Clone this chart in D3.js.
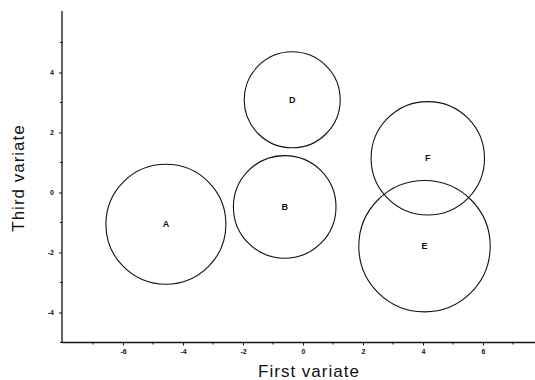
<!DOCTYPE html>
<html>
<head>
<meta charset="utf-8">
<script src="https://cdn.jsdelivr.net/npm/d3@7"></script>
<style>
  html, body { margin: 0; padding: 0; background: #fff; }
  svg { display: block; }
  .tick text { font-family: "Liberation Sans", Arial, sans-serif; font-size: 7px; font-weight: bold; fill: #111; }
</style>
</head>
<body>
<svg id="chart" width="535" height="380"></svg>
<script>
// Group means on the first and third canonical variates, with radius of each confidence circle
const groups  = ["A", "B", "D", "E", "F"];
const firstV  = [-4.57, -0.61, -0.36, 4.05, 4.16];
const thirdV  = [-1.06, -0.48, 3.09, -1.79, 1.14];
const radii   = [2.0, 1.71, 1.6, 2.19, 1.89];

const xMajor = [-6, -4, -2, 0, 2, 4, 6];
const xMinor = [-7, -5, -3, -1, 1, 3, 5, 7];
const yMajor = [-4, -2, 0, 2, 4];
const yMinor = [-5, -3, -1, 1, 3, 5];

const svg = d3.select("#chart");
const x = d3.scaleLinear().domain([-8, 7.7]).range([63, 534]);
const y = d3.scaleLinear().domain([-5, 6.05]).range([342.5, 11]);
const ink = "#111";

// axes
const xAxis = d3.axisBottom(x).tickValues(xMajor).tickSize(3).tickPadding(4)
  .tickFormat(d => d < 0 ? "-" + Math.abs(d) : d);
const gx = svg.append("g").attr("transform", `translate(0,${y(-5)})`).call(xAxis);
gx.select(".domain").attr("d", `M62,0H535`).attr("stroke", ink).attr("stroke-width", 1.3);
gx.selectAll(".tick line").attr("stroke", ink);
gx.selectAll(".minor").data(xMinor).enter().append("line")
  .attr("x1", d => x(d)).attr("x2", d => x(d)).attr("y1", 0).attr("y2", 2)
  .attr("stroke", ink);

const yAxis = d3.axisLeft(y).tickValues(yMajor).tickSize(3).tickPadding(5)
  .tickFormat(d => d < 0 ? "-" + Math.abs(d) : d);
const gy = svg.append("g").attr("transform", `translate(62,0)`).call(yAxis);
gy.select(".domain").attr("d", `M0,11V${y(-5)}`).attr("stroke", ink).attr("stroke-width", 1.3);
gy.selectAll(".tick line").attr("stroke", ink);
gy.selectAll(".minor").data(yMinor).enter().append("line")
  .attr("x1", 0).attr("x2", -2).attr("y1", d => y(d)).attr("y2", d => y(d))
  .attr("stroke", ink);

// axis titles
svg.append("text")
  .attr("x", 309).attr("y", 377)
  .attr("text-anchor", "middle")
  .style("font-family", "'Liberation Sans', Arial, sans-serif")
  .style("font-size", "17px").style("letter-spacing", "1px")
  .attr("fill", ink)
  .text("First variate");

svg.append("text")
  .attr("transform", "translate(24,178) rotate(-90)")
  .attr("text-anchor", "middle")
  .style("font-family", "'Liberation Sans', Arial, sans-serif")
  .style("font-size", "17px").style("letter-spacing", "1px")
  .attr("fill", ink)
  .text("Third variate");

// circles and group labels
const data = groups.map((g, i) => ({ g, cx: firstV[i], cy: thirdV[i], r: radii[i] }));
const k = x(1) - x(0);

svg.selectAll("circle.grp").data(data).enter().append("circle")
  .attr("class", "grp")
  .attr("cx", d => x(d.cx)).attr("cy", d => y(d.cy))
  .attr("r", d => d.r * k)
  .attr("fill", "none").attr("stroke", ink).attr("stroke-width", 1.1);

svg.selectAll("text.lbl").data(data).enter().append("text")
  .attr("class", "lbl")
  .attr("x", d => x(d.cx)).attr("y", d => y(d.cy) + 3)
  .attr("text-anchor", "middle")
  .style("font-family", "'Liberation Sans', Arial, sans-serif")
  .style("font-size", "9px").style("font-weight", "bold")
  .attr("fill", ink)
  .text(d => d.g);
</script>
</body>
</html>
